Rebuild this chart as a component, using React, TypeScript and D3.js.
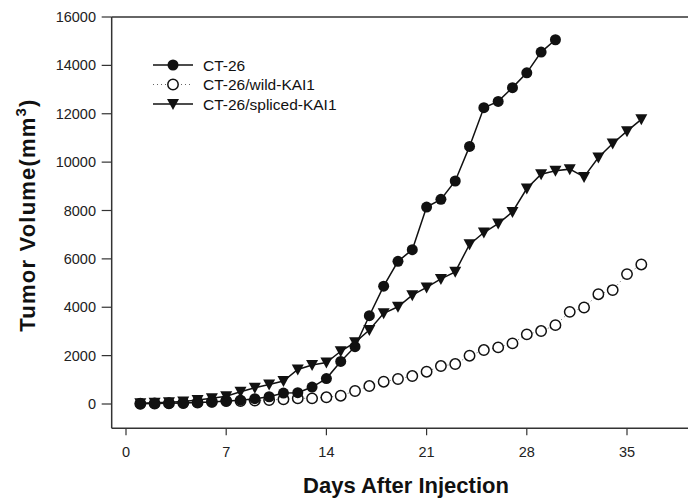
import React from "react";
import * as d3 from "d3";

const days = Array.from({ length: 36 }, (_, i) => i + 1);

const ct26 = [
  10, 20, 30, 40, 60, 80, 120, 160, 220, 300, 450, 470, 700, 1050, 1760,
  2370, 3650, 4870, 5900, 6380, 8140, 8460, 9220, 10650, 12250, 12510, 13080,
  13690, 14550, 15060,
];

const wild = [
  10, 20, 30, 40, 60, 95, 124, 124, 140, 165, 195, 234, 234, 276, 344, 537,
  743, 922, 1033, 1156, 1335, 1570, 1652, 1996, 2230, 2340, 2505, 2880, 3015,
  3260, 3810, 3990, 4540, 4710, 5370, 5770,
];

const spliced = [
  30, 50, 70, 100, 165, 240, 320, 510, 675, 810, 950, 1430, 1610, 1715, 2180,
  2550, 3060, 3750, 4020, 4500, 4820, 5170, 5465, 6600, 7090, 7460, 7940,
  8910, 9500, 9640, 9710, 9390, 10190, 10770, 11280, 11770,
];

const xTicks = [0, 7, 14, 21, 28, 35];
const yTicks = [0, 2000, 4000, 6000, 8000, 10000, 12000, 14000, 16000];

const legendLabels = ["CT-26", "CT-26/wild-KAI1", "CT-26/spliced-KAI1"];

const FONT = "'Liberation Sans', Arial, Helvetica, sans-serif";
const INK = "#111";
const AXIS = "#333";

const x = d3.scaleLinear().domain([0, 35]).range([126, 627]);
const y = d3.scaleLinear().domain([0, 16000]).range([404, 17]);

const tri = "M-6,-5L6,-5L0,6Z";

function Marker({ kind, cx, cy }: { kind: string; cx: number; cy: number }) {
  if (kind === "filled")
    return <circle cx={cx} cy={cy} r={5.5} fill={INK} />;
  if (kind === "open")
    return (
      <circle cx={cx} cy={cy} r={5.2} fill="white" stroke={INK} strokeWidth={1.5} />
    );
  return <path d={tri} transform={`translate(${cx},${cy})`} fill={INK} />;
}

export default function App() {
  const series = [
    { vals: ct26, kind: "filled", dash: undefined, color: INK, w: 1.5 },
    { vals: wild, kind: "open", dash: "1,3", color: "#666", w: 1 },
    { vals: spliced, kind: "tri", dash: undefined, color: INK, w: 1.5 },
  ];
  const line = d3
    .line<number>()
    .x((_, i) => x(days[i]))
    .y((v) => y(v));

  const order = [1, 0, 2];

  return (
    <svg
      width={688}
      height={499}
      style={{ position: "absolute", left: 0, top: 0, background: "white" }}
      fontFamily={FONT}
    >
      <rect x={0} y={0} width={688} height={499} fill="white" />
      {/* frame */}
      <line x1={x(-1)} x2={x(40)} y1={y(16000)} y2={y(16000)} stroke={AXIS} strokeWidth={1.5} />
      <line x1={x(-1)} x2={x(40)} y1={y(-1000)} y2={y(-1000)} stroke={AXIS} strokeWidth={1.5} />
      <line x1={x(-1)} x2={x(-1)} y1={y(-1000)} y2={y(16000)} stroke={AXIS} strokeWidth={1.5} />

      {yTicks.map((t) => (
        <g key={"y" + t}>
          <line x1={x(-1) - 10} x2={x(-1)} y1={y(t)} y2={y(t)} stroke={AXIS} strokeWidth={1.2} />
          <text x={96} y={y(t) + 5} textAnchor="end" fontSize={14.5} fill="#222">
            {t}
          </text>
        </g>
      ))}
      {xTicks.map((t) => (
        <g key={"x" + t}>
          <line x1={x(t)} x2={x(t)} y1={y(-1000)} y2={y(-1000) + 7} stroke={AXIS} strokeWidth={1.2} />
          <text x={x(t)} y={457} textAnchor="middle" fontSize={14.5} fill="#222">
            {t}
          </text>
        </g>
      ))}

      {/* lines */}
      {order.map((si) => {
        const s = series[si];
        return (
          <path
            key={"l" + si}
            d={line(s.vals) || ""}
            fill="none"
            stroke={s.color}
            strokeWidth={s.w}
            strokeDasharray={s.dash}
          />
        );
      })}
      {order.map((si) => {
        const s = series[si];
        return (
          <g key={"m" + si}>
            {s.vals.map((v, i) => (
              <Marker key={i} kind={s.kind} cx={x(days[i])} cy={y(v)} />
            ))}
          </g>
        );
      })}

      {/* legend */}
      {legendLabels.map((lab, i) => {
        const s = series[i];
        const ly = 65 + i * 19.5;
        return (
          <g key={"lg" + i}>
            <line
              x1={153}
              x2={193}
              y1={ly}
              y2={ly}
              stroke={s.color}
              strokeWidth={s.w}
              strokeDasharray={s.dash}
            />
            <Marker kind={s.kind} cx={173} cy={ly} />
            <text x={203} y={ly + 5.5} fontSize={15.5} fill="#111">
              {lab}
            </text>
          </g>
        );
      })}

      {/* axis titles */}
      <text
        transform={`translate(35,215) rotate(-90)`}
        textAnchor="middle"
        fontSize={22}
        fontWeight="bold"
        letterSpacing={1.2}
        fill="#111"
      >
        Tumor Volume(mm
        <tspan fontSize={15} dy={-9}>3</tspan>
        <tspan dy={9}>)</tspan>
      </text>
      <text x={406} y={493} textAnchor="middle" fontSize={22} fontWeight="bold" fill="#111">
        Days After Injection
      </text>
    </svg>
  );
}
